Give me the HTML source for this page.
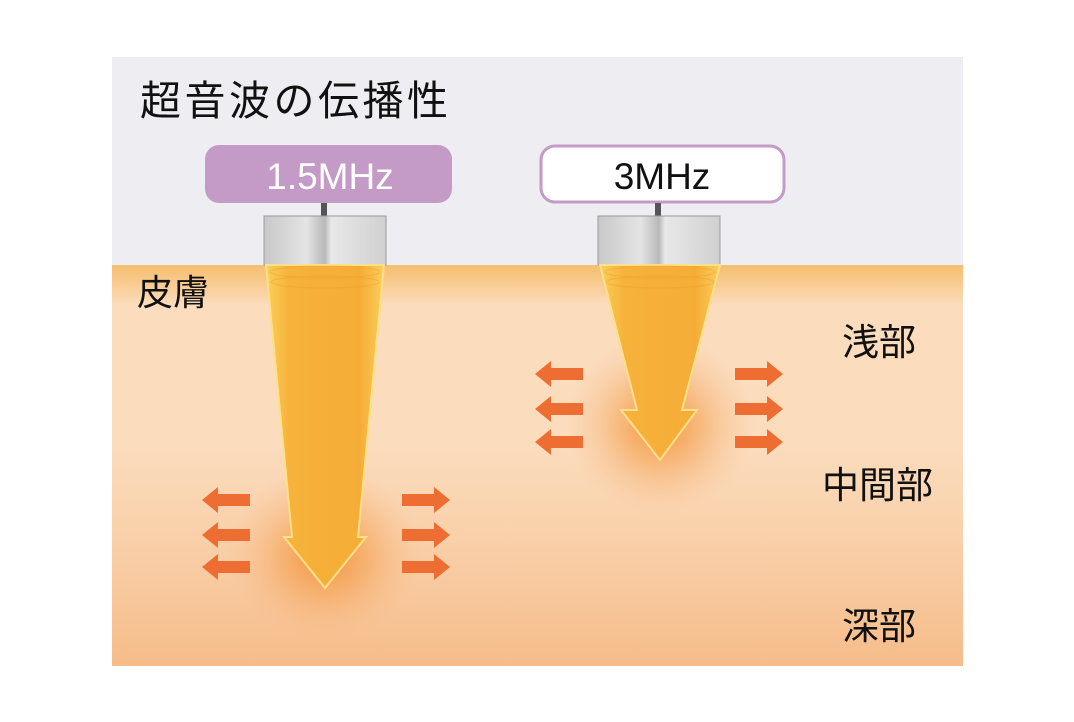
<!DOCTYPE html>
<html><head><meta charset="utf-8"><style>
body{margin:0;background:#fff;width:1074px;height:717px;overflow:hidden}
svg text{font-family:"Liberation Sans","Noto Sans CJK JP",sans-serif}
</style></head><body>
<svg width="1074" height="717" viewBox="0 0 1074 717" xmlns="http://www.w3.org/2000/svg">
<defs>
<linearGradient id="skin" x1="0" y1="0" x2="0" y2="1">
<stop offset="0" stop-color="#f6bf72"/>
<stop offset="0.04" stop-color="#f8c98a"/>
<stop offset="0.1" stop-color="#fbdcbc"/>
<stop offset="0.45" stop-color="#fbdcbd"/>
<stop offset="0.7" stop-color="#f9cfa8"/>
<stop offset="1" stop-color="#f6bc8a"/>
</linearGradient>
<linearGradient id="cyl" x1="0" y1="0" x2="1" y2="0">
<stop offset="0" stop-color="#c8c8c8"/><stop offset="0.35" stop-color="#e4e4e4"/>
<stop offset="0.5" stop-color="#b8b8b8"/><stop offset="0.55" stop-color="#e8e8e8"/>
<stop offset="1" stop-color="#d0d0d0"/></linearGradient>
<linearGradient id="beam" x1="0" y1="0" x2="1" y2="0">
<stop offset="0" stop-color="#fbcf5a"/><stop offset="0.2" stop-color="#f6b23a"/>
<stop offset="0.8" stop-color="#f5ad38"/><stop offset="1" stop-color="#fbcf5a"/></linearGradient>
<radialGradient id="glow"><stop offset="0" stop-color="#f08a2a" stop-opacity="0.9"/>
<stop offset="0.45" stop-color="#f5a050" stop-opacity="0.55"/><stop offset="1" stop-color="#f8c090" stop-opacity="0"/></radialGradient>
<g id="ra"><polygon points="0,-6 32,-6 32,-13 48,0 32,13 32,6 0,6" fill="#ee6d32"/></g>
<g id="la"><polygon points="48,-6 16,-6 16,-13 0,0 16,13 16,6 48,6" fill="#ee6d32"/></g>
</defs>
<rect x="112" y="57" width="851" height="609" fill="#eeedf1"/>
<rect x="112" y="265" width="851" height="401" fill="url(#skin)"/>
<text x="140" y="115" font-size="41" fill="#111" textLength="308">超音波の伝播性</text>
<text x="137" y="305" font-size="36" fill="#111">皮膚</text>
<text x="842" y="355" font-size="37" fill="#111">浅部</text>
<text x="822" y="498" font-size="37" fill="#111">中間部</text>
<text x="842" y="639" font-size="37" fill="#111">深部</text>
<!-- left probe -->
<rect x="205" y="145" width="247" height="58" rx="14" fill="#c49ac6"/>
<text x="330" y="189" font-size="37" fill="#fff" text-anchor="middle">1.5MHz</text>
<rect x="321" y="203" width="6" height="14" fill="#555"/>
<rect x="264" y="216" width="122" height="49" fill="url(#cyl)" stroke="#999"/>
<ellipse cx="325" cy="555" rx="100" ry="90" fill="url(#glow)"/>
<polygon points="266,265 384,265 358,537 366,537 325,588 284,537 292,537" fill="url(#beam)" stroke="#fde08a" stroke-width="2"/>
<ellipse cx="325" cy="272" rx="55" ry="6" fill="none" stroke="#f0a030" stroke-opacity=".5"/>
<ellipse cx="325" cy="282" rx="54" ry="6" fill="none" stroke="#f0a030" stroke-opacity=".5"/>
<use href="#la" x="202" y="500"/><use href="#la" x="202" y="535"/><use href="#la" x="202" y="567"/>
<use href="#ra" x="402" y="500"/><use href="#ra" x="402" y="535"/><use href="#ra" x="402" y="567"/>
<!-- right probe -->
<rect x="541" y="146" width="243" height="56" rx="14" fill="#fff" stroke="#c49ac6" stroke-width="3"/>
<text x="662" y="189" font-size="37" fill="#111" text-anchor="middle">3MHz</text>
<rect x="655" y="203" width="6" height="14" fill="#555"/>
<rect x="598" y="216" width="122" height="49" fill="url(#cyl)" stroke="#999"/>
<ellipse cx="660" cy="425" rx="95" ry="90" fill="url(#glow)"/>
<polygon points="600,265 720,265 682,410 697,410 660,460 621,410 637,410" fill="url(#beam)" stroke="#fde08a" stroke-width="2"/>
<ellipse cx="660" cy="272" rx="55" ry="6" fill="none" stroke="#f0a030" stroke-opacity=".5"/>
<ellipse cx="660" cy="282" rx="54" ry="6" fill="none" stroke="#f0a030" stroke-opacity=".5"/>
<use href="#la" x="535" y="374"/><use href="#la" x="535" y="409"/><use href="#la" x="535" y="442"/>
<use href="#ra" x="735" y="374"/><use href="#ra" x="735" y="409"/><use href="#ra" x="735" y="442"/>
</svg>
</body></html>
